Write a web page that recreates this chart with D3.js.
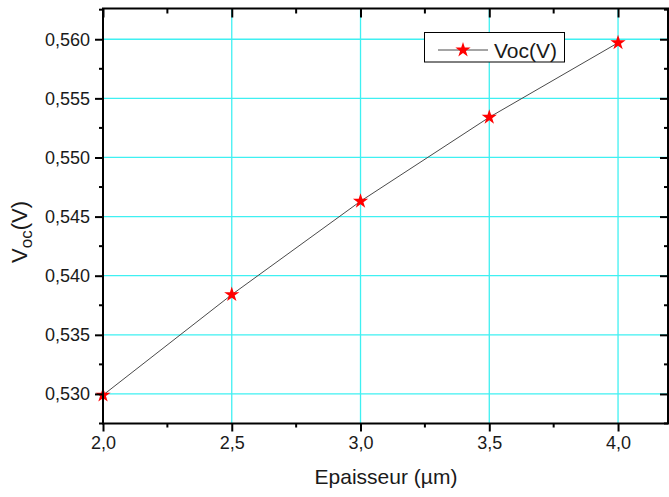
<!DOCTYPE html>
<html>
<head>
<meta charset="utf-8">
<script src="https://cdn.jsdelivr.net/npm/d3@7"></script>
<style>
html,body{margin:0;padding:0;background:#fff;}
svg{display:block;font-family:"Liberation Sans",Arial,sans-serif;}
</style>
</head>
<body>
<svg id="c" width="669" height="497"></svg>
<script>
const thickness = [2.0, 2.5, 3.0, 3.5, 4.0];
const voc = [0.5299, 0.5384, 0.5463, 0.5534, 0.5597];
const xTicks = [2.0, 2.5, 3.0, 3.5, 4.0];
const yTicks = [0.530, 0.535, 0.540, 0.545, 0.550, 0.555, 0.560];
const xMinor = [2.25, 2.75, 3.25, 3.75];
const yMinor = [0.5275, 0.5325, 0.5375, 0.5425, 0.5475, 0.5525, 0.5575, 0.5625];
const seriesName = "Voc(V)";

const svg = d3.select("#c");
const L = 103, R = 668, T = 8.5, B = 423.5;
const x = d3.scaleLinear().domain([2.0, 4.194]).range([L, R]);
const y = d3.scaleLinear().domain([0.5275, 0.5626]).range([B, T]);
const fmtX = d => d3.format(".1f")(d).replace(".", ",");
const fmtY = d => d3.format(".3f")(d).replace(".", ",");
const grid = "#3ff0f2";

// gridlines
svg.append("g").selectAll("line").data(yTicks).join("line")
  .attr("x1", L).attr("x2", R).attr("y1", d => y(d)).attr("y2", d => y(d))
  .attr("stroke", grid).attr("stroke-width", 1.3);
svg.append("g").selectAll("line").data(xTicks.slice(1)).join("line")
  .attr("y1", T).attr("y2", B).attr("x1", d => x(d)).attr("x2", d => x(d))
  .attr("stroke", grid).attr("stroke-width", 1.3);

// line + markers
const line = d3.line().x((d, i) => x(thickness[i])).y(d => y(d));
svg.append("path").datum(voc).attr("d", line)
  .attr("fill", "none").attr("stroke", "#4a4a4a").attr("stroke-width", 1);
const star = d3.symbol().type(d3.symbolStar).size(72);
svg.append("g").selectAll("path").data(voc).join("path")
  .attr("d", star)
  .attr("transform", (d, i) => `translate(${x(thickness[i])},${y(d)})`)
  .attr("fill", "#ff0000");

// axes
const axL = d3.axisLeft(y).tickValues(yTicks).tickFormat(fmtY).tickSize(8).tickPadding(5);
const axB = d3.axisBottom(x).tickValues(xTicks).tickFormat(fmtX).tickSize(8).tickPadding(5);
const axT = d3.axisBottom(x).tickValues(xTicks).tickFormat("").tickSize(9);
const axR = d3.axisLeft(y).tickValues(yTicks).tickFormat("").tickSize(8);

function style(g){
  g.select(".domain").remove();
  g.selectAll(".tick line").attr("stroke", "#000").attr("stroke-width", 2);
  g.selectAll("text").attr("fill", "#1a1a1a").attr("font-size", 18);
}
svg.append("g").attr("transform", `translate(${L},0)`).call(axL).call(style);
svg.append("g").attr("transform", `translate(0,${B})`).call(axB).call(style);
svg.append("g").attr("transform", `translate(0,${T})`).call(axT).call(style);
svg.append("g").attr("transform", `translate(${R},0)`).call(axR).call(style);

// minor ticks
const mg = svg.append("g").attr("stroke", "#000").attr("stroke-width", 2);
mg.selectAll(".ml").data(yMinor).join("line").attr("class","ml")
  .attr("x1", L - 4).attr("x2", L).attr("y1", d => y(d)).attr("y2", d => y(d));
mg.selectAll(".mr").data(yMinor).join("line").attr("class","mr")
  .attr("x1", R - 4).attr("x2", R).attr("y1", d => y(d)).attr("y2", d => y(d));
mg.selectAll(".mb").data(xMinor).join("line").attr("class","mb")
  .attr("y1", B).attr("y2", B + 4).attr("x1", d => x(d)).attr("x2", d => x(d));
mg.selectAll(".mt").data(xMinor).join("line").attr("class","mt")
  .attr("y1", T).attr("y2", T + 5).attr("x1", d => x(d)).attr("x2", d => x(d));

// frame
svg.append("rect").attr("x", L).attr("y", T).attr("width", R - L).attr("height", B - T)
  .attr("fill", "none").attr("stroke", "#000").attr("stroke-width", 2);

// axis titles
svg.append("text").attr("x", 386).attr("y", 484).attr("text-anchor", "middle")
  .attr("font-size", 21).attr("fill", "#1a1a1a").text("Epaisseur (µm)");
const yl = svg.append("text").attr("transform", "translate(27,232) rotate(-90)")
  .attr("text-anchor", "middle").attr("font-size", 22).attr("fill", "#1a1a1a");
yl.append("tspan").text("V");
yl.append("tspan").attr("font-size", 17).attr("dy", 5).text("oc");
yl.append("tspan").attr("dy", -5).text("(V)");

// legend
const lg = svg.append("g");
lg.append("rect").attr("x", 424.5).attr("y", 32.5).attr("width", 140).attr("height", 29.5)
  .attr("fill", "#fff").attr("stroke", "#000").attr("stroke-width", 1);
lg.append("line").attr("x1", 438).attr("x2", 488).attr("y1", 50).attr("y2", 50)
  .attr("stroke", "#4a4a4a").attr("stroke-width", 1);
lg.append("path").attr("d", star).attr("transform", "translate(463,50)").attr("fill", "#ff0000");
lg.append("text").attr("x", 494).attr("y", 57.5).attr("font-size", 21).attr("fill", "#1a1a1a").text(seriesName);
</script>
</body>
</html>
